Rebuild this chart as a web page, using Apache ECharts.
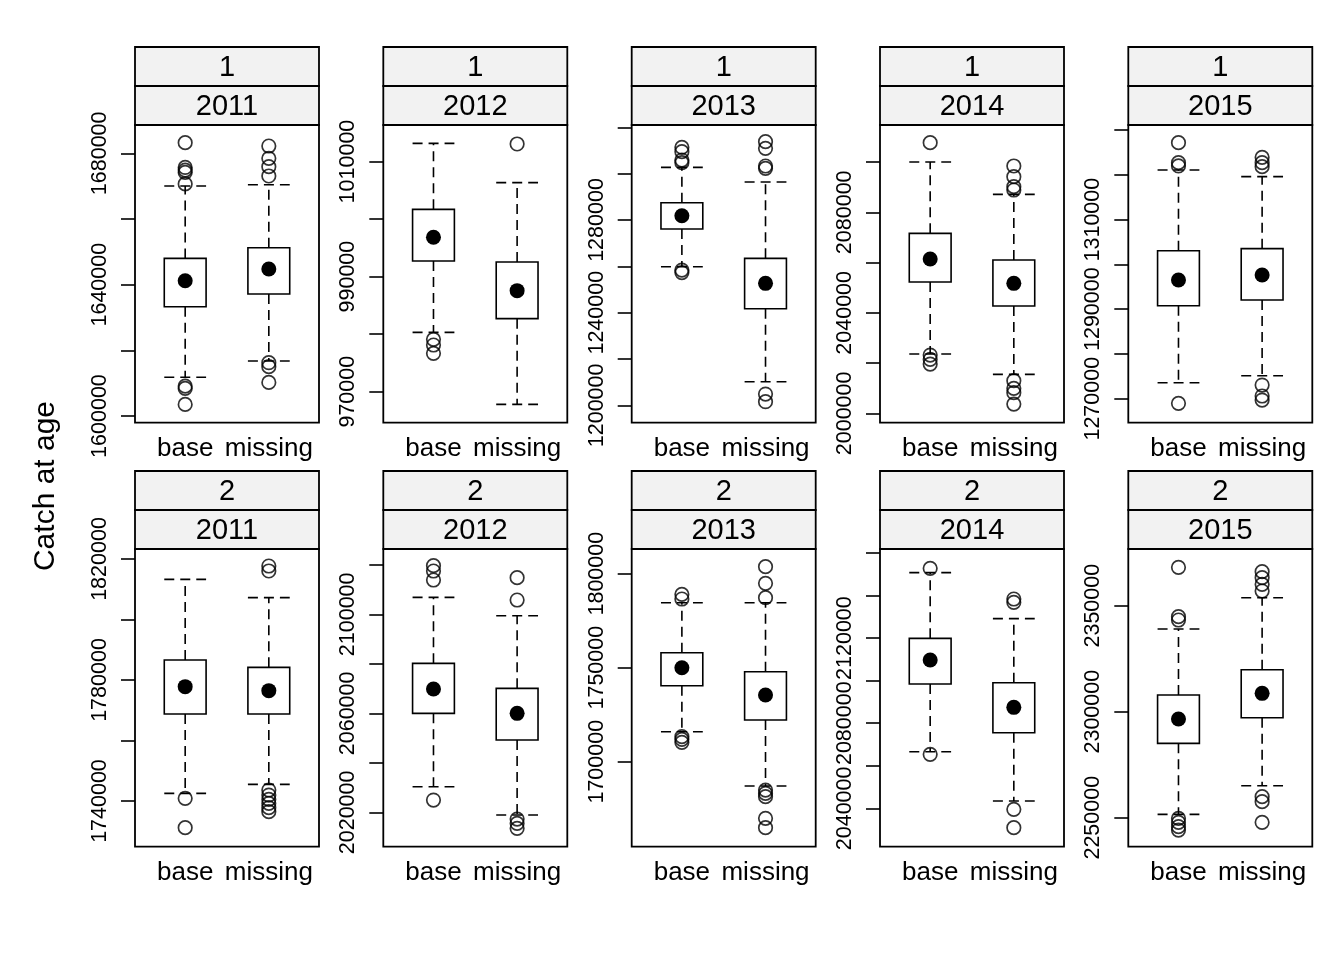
<!DOCTYPE html>
<html>
<head>
<meta charset="utf-8">
<script src="https://cdn.jsdelivr.net/npm/echarts@6/dist/echarts.min.js"></script>
<style>
  html, body { margin: 0; padding: 0; background: #fff; }
  #chart { width: 1344px; height: 960px; }
</style>
</head>
<body>
<div id="chart"></div>
<script>
// ---------- data ----------
const ages = ['1', '1', '1', '1', '1', '2', '2', '2', '2', '2'];
const years = ['2011', '2012', '2013', '2014', '2015', '2011', '2012', '2013', '2014', '2015'];
const groups = ['base', 'missing'];
const yLabelText = 'Catch at age';

// [lower whisker, Q1, median, Q3, upper whisker]
const baseStats = [
  [1611800, 1633300, 1641200, 1648000, 1670050],
  [980310, 992710, 996830, 1001690, 1013160],
  [1259860, 1276120, 1281870, 1287480, 1302730],
  [2023610, 2052250, 2061410, 2071620, 2100000],
  [1273570, 1290770, 1296510, 1303060, 1321080],
  [1742530, 1768760, 1777800, 1786610, 1813280],
  [2030370, 2060000, 2069830, 2080200, 2106870],
  [1715960, 1740420, 1750000, 1757980, 1784570],
  [2066620, 2098410, 2109690, 2119870, 2150720],
  [2251570, 2285060, 2296540, 2307860, 2338990]
];
const missingStats = [
  [1616750, 1637150, 1644770, 1651270, 1670450],
  [967800, 982690, 987560, 992540, 1006330],
  [1210220, 1241730, 1252660, 1263450, 1296400],
  [2015520, 2042710, 2051720, 2061010, 2087130],
  [1275140, 1292040, 1297630, 1303510, 1319590],
  [1745510, 1768760, 1776480, 1784190, 1807220],
  [2018920, 2049230, 2060000, 2070100, 2099460],
  [1687060, 1722160, 1735460, 1747870, 1784570],
  [2043450, 2075550, 2087450, 2099040, 2129110],
  [2265090, 2297170, 2308650, 2319810, 2353770]
];
const baseOutliers = [
  [1683250, 1675700, 1674900, 1674200, 1670700, 1609100, 1608400, 1603550],
  [979100, 978110, 976660],
  [1311370, 1309500, 1305900, 1304750, 1258400, 1257300],
  [2107690, 2023210, 2021490, 2019630],
  [1327190, 1322720, 1321980, 1268960],
  [1740880, 1731180],
  [2119660, 2117510, 2113870, 2024980],
  [1789000, 1786520, 1713300, 1711880, 1710280],
  [2152750, 2065370],
  [2368080, 2344810, 2343240, 2249690, 2247800, 2245760, 2244180]
];
const missingOutliers = [
  [1682230, 1678480, 1675940, 1673100, 1616240, 1615030, 1610250],
  [1013050],
  [1313810, 1310940, 1303310, 1302300, 1204890, 1201580],
  [2098410, 2094160, 2090190, 2088860, 2013000, 2009950, 2008220, 2003710],
  [1323910, 1322720, 1321830, 1273050, 1270600, 1269700],
  [1817690, 1816040, 1743640, 1741980, 1740550, 1739230, 1737800, 1736470],
  [2114810, 2105790, 2017310, 2015560, 2013540],
  [1803720, 1794860, 1787230, 1684930, 1683160, 1681390, 1669860, 1664900],
  [2138340, 2136780, 2039530, 2030920],
  [2366030, 2363200, 2360060, 2356920, 2259910, 2257550, 2247800]
];
// y scale limits per panel
const yRanges = [
  [1597970, 1688630],
  [964610, 1016350],
  [1192520, 1321010],
  [1996290, 2114720],
  [1264640, 1331130],
  [1724900, 1823310],
  [2006130, 2126400],
  [1654790, 1813120],
  [2021990, 2161840],
  [2236320, 2376730]
];
const yTicks = [
  [1600000, 1620000, 1640000, 1660000, 1680000],
  [970000, 980000, 990000, 1000000, 1010000],
  [1200000, 1220000, 1240000, 1260000, 1280000, 1300000, 1320000],
  [2000000, 2020000, 2040000, 2060000, 2080000, 2100000],
  [1270000, 1280000, 1290000, 1300000, 1310000, 1320000, 1330000],
  [1740000, 1760000, 1780000, 1800000, 1820000],
  [2020000, 2040000, 2060000, 2080000, 2100000, 2120000],
  [1700000, 1750000, 1800000],
  [2040000, 2060000, 2080000, 2100000, 2120000, 2140000, 2160000],
  [2250000, 2300000, 2350000]
];
const yTickLabels = [
  [1600000, 1640000, 1680000],
  [970000, 990000, 1010000],
  [1200000, 1240000, 1280000],
  [2000000, 2040000, 2080000],
  [1270000, 1290000, 1310000],
  [1740000, 1780000, 1820000],
  [2020000, 2060000, 2100000],
  [1700000, 1750000, 1800000],
  [2040000, 2080000, 2120000],
  [2250000, 2300000, 2350000]
];

// ---------- layout ----------
const FONT = "'Liberation Sans', Arial, Helvetica, sans-serif";
const panelLefts = [135, 383.3, 631.7, 880, 1128.3];
const panelW = 184;
const rowTops = [125, 549];
const panelH = 297.7;
const stripH = 39;

const chart = echarts.init(document.getElementById('chart'), null, { renderer: 'canvas' });

const grids = [], xAxes = [], yAxes = [], series = [], graphics = [];

for (let i = 0; i < 10; i++) {
  const col = i % 5, row = Math.floor(i / 5);
  const left = panelLefts[col], top = rowTops[row];
  grids.push({
    left: left, top: top, width: panelW, height: panelH,
    show: true, borderColor: '#000', borderWidth: 1.8, backgroundColor: 'transparent'
  });
  xAxes.push({
    gridIndex: i, type: 'value', min: 0.4, max: 2.6,
    axisLine: { show: false }, axisTick: { show: false }, splitLine: { show: false },
    axisLabel: {
      customValues: [1, 2], margin: 13, hideOverlap: false,
      color: '#000', fontFamily: FONT, fontSize: 26,
      formatter: v => groups[Math.round(v) - 1] || ''
    }
  });
  yAxes.push({
    gridIndex: i, type: 'value', min: yRanges[i][0], max: yRanges[i][1],
    axisLine: { show: false }, splitLine: { show: false },
    axisTick: { show: true, inside: false, length: 14, customValues: yTicks[i], lineStyle: { color: '#000', width: 1.6 } },
    axisLabel: {
      customValues: yTickLabels[i], rotate: 90, margin: 24, hideOverlap: false,
      showMinLabel: true, showMaxLabel: true,
      color: '#000', fontFamily: FONT, fontSize: 21.5,
      formatter: v => String(v)
    }
  });
  const boxData = [
    [1].concat(baseStats[i]),
    [2].concat(missingStats[i])
  ];
  series.push({
    type: 'custom', xAxisIndex: i, yAxisIndex: i, clip: false,
    data: boxData,
    renderItem: function (params, api) {
      const x = api.value(0);
      const c = v => api.coord([x, v]);
      const low = c(api.value(1)), q1 = c(api.value(2)), med = c(api.value(3)),
            q3 = c(api.value(4)), up = c(api.value(5));
      const w = api.size([0.5, 0])[0];
      const cx = low[0];
      const dash = [10, 6];
      const line = (x1, y1, x2, y2) => ({
        type: 'line', shape: { x1, y1, x2, y2 },
        style: { stroke: '#000', lineWidth: 1.6, lineDash: dash, fill: null }
      });
      return {
        type: 'group', children: [
          line(cx, q3[1], cx, up[1]),
          line(cx, q1[1], cx, low[1]),
          line(cx - w / 2, up[1], cx + w / 2, up[1]),
          line(cx - w / 2, low[1], cx + w / 2, low[1]),
          { type: 'rect', shape: { x: cx - w / 2, y: q3[1], width: w, height: q1[1] - q3[1] },
            style: { fill: '#fff', stroke: '#000', lineWidth: 1.6 } },
          { type: 'circle', shape: { cx: cx, cy: med[1], r: 7.5 }, style: { fill: '#000' } }
        ]
      };
    }
  });
  const outData = baseOutliers[i].map(v => [1, v]).concat(missingOutliers[i].map(v => [2, v]));
  series.push({
    type: 'scatter', xAxisIndex: i, yAxisIndex: i, clip: false,
    symbol: 'circle', symbolSize: 13.5, data: outData,
    itemStyle: { color: 'transparent', borderColor: '#000', borderWidth: 1.7 },
    emphasis: { disabled: true }
  });
  // strips
  const stripTop = top - 2 * stripH;
  [ages[i], years[i]].forEach((txt, k) => {
    const y0 = stripTop + k * stripH;
    graphics.push({
      type: 'rect', shape: { x: left, y: y0, width: panelW, height: stripH },
      style: { fill: '#f2f2f2', stroke: '#000', lineWidth: 1.8 }, z: 10
    });
    graphics.push({
      type: 'text', x: left + panelW / 2, y: y0 + stripH / 2 + 1.5, z: 11,
      style: { text: txt, font: '29px ' + FONT, fill: '#000', textAlign: 'center', textVerticalAlign: 'middle' }
    });
  });
}

graphics.push({
  type: 'text', x: 46, y: 486, rotation: Math.PI / 2, z: 11,
  style: { text: yLabelText, font: '30px ' + FONT, fill: '#000', textAlign: 'center', textVerticalAlign: 'middle' }
});

chart.setOption({
  animation: false,
  backgroundColor: '#fff',
  grid: grids, xAxis: xAxes, yAxis: yAxes, series: series, graphic: graphics
});
</script>
</body>
</html>
